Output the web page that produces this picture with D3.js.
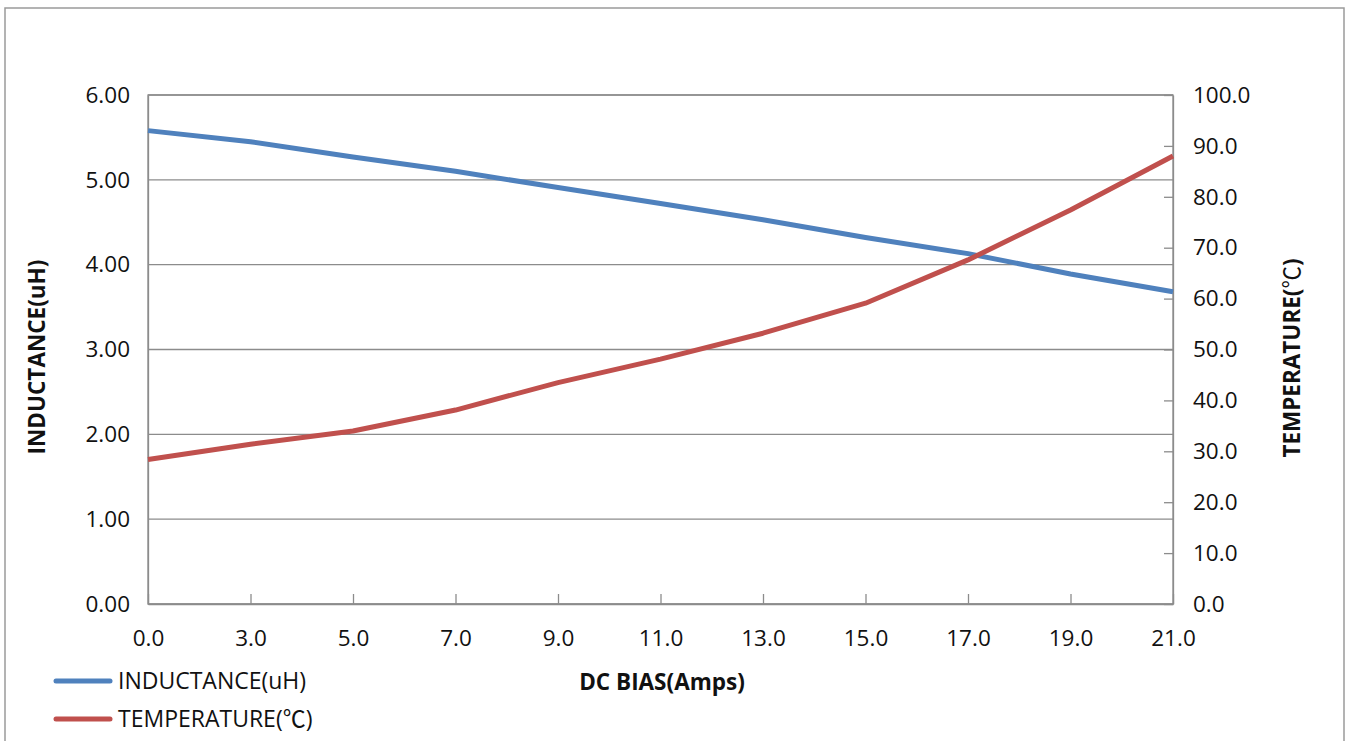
<!DOCTYPE html>
<html>
<head>
<meta charset="utf-8">
<script src="https://cdn.jsdelivr.net/npm/d3@7"></script>
<style>
  html, body { margin: 0; padding: 0; background: #fff; }
  svg { display: block; }
  text { font-family: "Open Sans", "Noto Sans", sans-serif; fill: #111; }
  .cjk { font-family: "Noto Sans CJK SC", sans-serif; }
</style>
</head>
<body>
<svg id="chart" width="1349" height="741"></svg>
<script>
const categories = ["0.0","3.0","5.0","7.0","9.0","11.0","13.0","15.0","17.0","19.0","21.0"];
const inductance = [5.58, 5.45, 5.27, 5.10, 4.91, 4.72, 4.53, 4.32, 4.13, 3.89, 3.68];
const temperature = [28.4, 31.4, 34.0, 38.1, 43.5, 48.1, 53.2, 59.1, 67.6, 77.4, 88.0];
const leftTicks = [0, 1, 2, 3, 4, 5, 6];
const rightTicks = [0, 10, 20, 30, 40, 50, 60, 70, 80, 90, 100];
const seriesNames = ["INDUCTANCE(uH)", "TEMPERATURE("];
const colors = ["#4F81BD", "#C0504D"];

const svg = d3.select("#chart");
const plot = { left: 148, right: 1173, top: 95, bottom: 604 };
const gridColor = "#8c8c8c";
const tickFont = "22.5px";

// outer frame
svg.append("rect").attr("x", 5).attr("y", 8).attr("width", 1339).attr("height", 760)
  .attr("fill", "#fff").attr("stroke", "#9a9a9a").attr("stroke-width", 1.5);

const x = d3.scalePoint().domain(categories).range([plot.left, plot.right]);
const yL = d3.scaleLinear().domain([0, 6]).range([plot.bottom, plot.top]);
const yR = d3.scaleLinear().domain([0, 100]).range([plot.bottom, plot.top]);

// gridlines
svg.append("g").selectAll("line").data(leftTicks).join("line")
  .attr("x1", plot.left).attr("x2", plot.right)
  .attr("y1", d => yL(d)).attr("y2", d => yL(d))
  .attr("stroke", gridColor).attr("stroke-width", 1.3);

// plot box
svg.append("rect").attr("x", plot.left).attr("y", plot.top)
  .attr("width", plot.right - plot.left).attr("height", plot.bottom - plot.top)
  .attr("fill", "none").attr("stroke", gridColor).attr("stroke-width", 1.3);

// left axis
const leftAxis = svg.append("g").attr("transform", `translate(${plot.left},0)`)
  .call(d3.axisLeft(yL).tickValues(leftTicks).tickFormat(d3.format(".2f")).tickSize(0).tickPadding(18));
leftAxis.select(".domain").attr("stroke", gridColor).attr("stroke-width", 1.3);
leftAxis.selectAll("text").style("font-size", tickFont).style("font-family", "'Open Sans', sans-serif").attr("fill", "#111");

// right axis
const rightAxis = svg.append("g").attr("transform", `translate(${plot.right},0)`)
  .call(d3.axisRight(yR).tickValues(rightTicks).tickFormat(d3.format(".1f")).tickSizeInner(-9).tickSizeOuter(0).tickPadding(19));
rightAxis.select(".domain").attr("stroke", gridColor).attr("stroke-width", 1.3);
rightAxis.selectAll(".tick line").attr("stroke", gridColor).attr("stroke-width", 1.3);
rightAxis.selectAll("text").attr("x", 20).style("font-size", tickFont).style("font-family", "'Open Sans', sans-serif").attr("fill", "#111");

// bottom axis
const bottomAxis = svg.append("g").attr("transform", `translate(0,${plot.bottom})`)
  .call(d3.axisBottom(x).tickSizeInner(-10).tickSizeOuter(0).tickPadding(26));
bottomAxis.select(".domain").attr("stroke", gridColor).attr("stroke-width", 1.3);
bottomAxis.selectAll(".tick line").attr("stroke", gridColor).attr("stroke-width", 1.3);
bottomAxis.selectAll("text").style("font-size", tickFont).style("font-family", "'Open Sans', sans-serif").attr("fill", "#111");

// lines
const lineL = d3.line().x((d, i) => x(categories[i])).y(d => yL(d));
const lineR = d3.line().x((d, i) => x(categories[i])).y(d => yR(d));
svg.append("path").datum(inductance).attr("d", lineL)
  .attr("fill", "none").attr("stroke", colors[0]).attr("stroke-width", 5).attr("stroke-linejoin", "round");
svg.append("path").datum(temperature).attr("d", lineR)
  .attr("fill", "none").attr("stroke", colors[1]).attr("stroke-width", 5).attr("stroke-linejoin", "round");

// axis titles
svg.append("text").attr("transform", "translate(45,357) rotate(-90)")
  .attr("text-anchor", "middle").style("font-size", "22.5px").style("font-weight", "bold")
  .text("INDUCTANCE(uH)");
const rt = svg.append("text").attr("transform", "translate(1300,358) rotate(-90)")
  .attr("text-anchor", "middle").style("font-size", "22.5px").style("font-weight", "bold");
rt.append("tspan").text("TEMPERATURE(");
rt.append("tspan").attr("class", "cjk").style("font-weight", "normal").text("\u2103");
rt.append("tspan").text(")");
svg.append("text").attr("x", 662).attr("y", 690)
  .attr("text-anchor", "middle").style("font-size", "22.5px").style("font-weight", "bold")
  .text("DC BIAS(Amps)");

// legend
const legend = svg.append("g");
seriesNames.forEach((name, i) => {
  const yy = 681 + i * 38;
  legend.append("line").attr("x1", 56).attr("x2", 110).attr("y1", yy).attr("y2", yy)
    .attr("stroke", colors[i]).attr("stroke-width", 5).attr("stroke-linecap", "round");
  const t = legend.append("text").attr("x", 118).attr("y", yy + 8).style("font-size", "23px");
  t.append("tspan").text(name);
  if (i === 1) {
    t.append("tspan").attr("class", "cjk").text("\u2103");
    t.append("tspan").text(")");
  }
});
</script>
</body>
</html>
